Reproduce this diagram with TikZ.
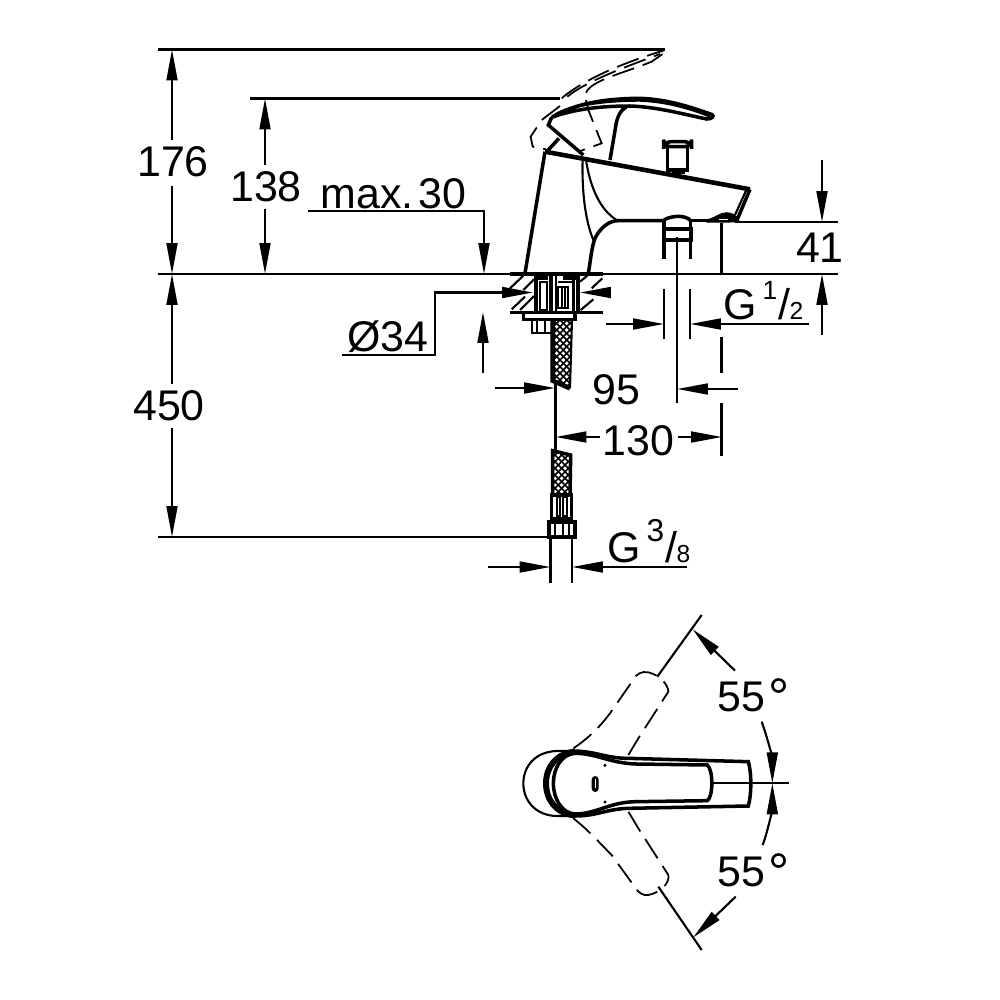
\documentclass[tikz,border=0pt]{standalone}
\usepackage{fontspec}
\setmainfont{Liberation Sans}
\usetikzlibrary{arrows.meta}
\newcommand{\dimfont}{\fontsize{12.2}{14}\selectfont}
\newcommand{\fracdim}[4]{G\kern1.6pt\raisebox{#4}{\fontsize{#3}{9}\selectfont #1}\kern0.3pt/\kern-0.2pt{\fontsize{7}{9}\selectfont #2}}
\newcommand{\degmark}{\kern1pt\raisebox{-1.2pt}{\fontsize{15}{15}\selectfont °}}
\tikzset{
  dimline/.style={line width=0.6pt,black},
  tip/.style={-{Triangle[length=8.8pt,width=3.1pt]}},
  part/.style={line width=0.6pt,black},
  heavy/.style={line width=1pt,black},
  phantomline/.style={line width=0.5pt,black,dash pattern=on 6.5pt off 2.6pt},
  hatch/.style={line width=0.45pt,black},
  dimtext/.style={font=\dimfont,inner sep=0pt,text=black},
  zoomA/.style={shift={(480,30)},scale=1/3},
  zoomB/.style={shift={(430,260)},scale=1/3},
  zoomC/.style={shift={(480,440)},scale=1/3},
  zoomD/.style={shift={(500,610)},scale=1/3}
}
\begin{document}
\begin{tikzpicture}[x=0.01cm,y=-0.01cm]
\useasboundingbox[fill=white] (0,0) rectangle (1000,1000);

% ---- extension lines
\draw[dimline] (158,49.5) -- (665,49.5);
\draw[dimline] (250,98.5) -- (560,98.5);
\draw[dimline] (158,274) -- (838,274);
\draw[dimline] (158,537) -- (550,537);
\draw[dimline] (735,222) -- (838,222);

% ---- 176 / 450 / 138
\draw[dimline,tip] (172,140) -- (172,49.5);
\draw[dimline,tip] (172,186) -- (172,274);
\draw[dimline,tip] (172,384) -- (172,274);
\draw[dimline,tip] (172,428) -- (172,537);
\draw[dimline,tip] (265,165) -- (265,98.5);
\draw[dimline,tip] (265,209) -- (265,274);
\node[dimtext] (t176) at (173,162) {176};
\node[dimtext] (t450) at (169,406) {450};
\node[dimtext] (t138) at (266,187) {138};

% ---- max. 30
\draw[dimline,tip] (308,211) -- (484,211) -- (484,274);
\node[dimtext] (tmax) at (393.5,194) {max.\kern1.5pt30};

% ---- dia 34
\draw[dimline,tip] (342,355) -- (435,355) -- (435,292.5) -- (533,292.5);
\draw[dimline,tip] (610,292.5) -- (580,292.5);
\node[dimtext] (t34) at (388,337) {Ø34};

% ---- deck thickness
\draw[dimline,tip] (483,373) -- (483,312);

% ---- 95
\draw[dimline,tip] (495,388) -- (555,388);
\draw[dimline] (555.5,380) -- (555.5,452);
\draw[dimline,tip] (738,389) -- (677,389);
\node[dimtext] (t95) at (616,390) {95};
\draw[dimline] (677,237) -- (677,403);

% ---- 130
\draw[dimline,tip] (600,437) -- (555.5,437);
\draw[dimline,tip] (678,437) -- (722,437);
\node[dimtext] (t130) at (638.5,441) {130};
\draw[dimline] (721.5,223) -- (721.5,274);
\draw[dimline] (721.5,337) -- (721.5,373);
\draw[dimline] (721.5,403) -- (721.5,456);

% ---- G 1/2
\draw[dimline] (664,289) -- (664,339);
\draw[dimline] (690,289) -- (690,339);
\draw[dimline,tip] (606,324) -- (664,324);
\draw[dimline,tip] (809,324) -- (690,324);
\node[dimtext,anchor=base west] (tg12) at (723,319) {\fracdim{1}{2}{7.5}{5.6pt}};

% ---- 41
\draw[dimline,tip] (822,160) -- (822,222);
\draw[dimline,tip] (822,335) -- (822,274);
\node[dimtext] (t41) at (819.5,248) {4\kern-0.3pt 1};

% ---- G 3/8
\draw[dimline] (550.5,537) -- (550.5,583);
\draw[dimline] (572,537) -- (572,583);
\draw[dimline,tip] (488,567) -- (550.5,567);
\draw[dimline,tip] (687,567) -- (572,567);
\node[dimtext,anchor=base west] (tg38) at (607,562) {\fracdim{3}{8}{9}{5.8pt}};

% ---- faucet side view
\begin{scope}[zoomA]
  % body
  \draw[heavy] (135,730) -- (195,365);
  \draw[line width=1.3pt] (195,365) -- (810,478);
  \draw[heavy] (810,478) -- (772,568);
  \draw[part] (798,482) -- (765,555);
  \draw[part] (308,385) .. controls (305,480) and (315,570) .. (340,630);
  \draw[part] (318,390) .. controls (330,470) and (360,540) .. (410,570);
  \draw[heavy] (325,730) .. controls (332,690) and (335,650) .. (345,625)
     .. controls (360,595) and (385,572) .. (415,572) -- (550,572);
  \draw[heavy] (632,572) -- (690,572);
  % aerator
  \draw[heavy,fill=black] (680,573) .. controls (705,570) and (720,552) .. (740,552)
     .. controls (755,552) and (770,562) .. (772,572) -- cycle;
  \draw[fill=white,draw=none] (716,566) rectangle (745,570);
  % button
  \draw[heavy,fill=white] (563,348) rectangle (622,420);
  \draw[heavy,fill=white,rounded corners=2pt] (551,335) rectangle (635,350);
  \draw[heavy,fill=white] (580,420) rectangle (610,428);
  % diverter
  \draw[heavy] (550,572) .. controls (565,558) and (615,552) .. (632,572);
  \draw[heavy] (552,572) -- (552,688);
  \draw[heavy] (632,572) -- (632,688);
  \draw[line width=1.1pt] (552,598) rectangle (632,630);
  % lever
  \draw[heavy] (215,262) .. controls (290,215) and (400,205) .. (480,205)
     .. controls (570,208) and (640,235) .. (695,253)
     .. controls (705,258) and (695,268) .. (680,267)
     .. controls (620,255) and (530,230) .. (450,228)
     .. controls (360,228) and (280,238) .. (215,262);
  \draw[part] (230,250) .. controls (300,220) and (400,212) .. (480,212)
     .. controls (570,216) and (640,240) .. (690,260);
  \draw[heavy] (440,230) .. controls (420,240) and (410,265) .. (407,290) -- (390,390);
  \draw[heavy] (215,262) -- (205,285) -- (310,375);
  \draw[heavy] (237,325) -- (200,365);
  % raised lever, dashed
  \draw[phantomline] (245,205) .. controls (290,165) and (390,110) .. (550,62);
  \draw[phantomline] (262,200) .. controls (310,160) and (410,120) .. (540,72);
  \draw[phantomline] (318,188) .. controls (335,150) and (430,130) .. (515,95) -- (558,65);
  \draw[phantomline] (240,228) -- (185,270) -- (152,320) -- (158,350) -- (198,358);
  \draw[phantomline] (318,210) -- (325,240) -- (365,340) -- (295,365);
\end{scope}

% ---- deck section and hose
\begin{scope}[zoomB]
  \draw[heavy] (240,42) -- (520,42);
  \draw[heavy] (240,157) -- (520,157);
  \foreach \a/\b/\c/\d in {240/85/280/47, 280/90/312/58, 245/148/285/110, 450/65/472/47, 452/150/490/118, 485/85/517/55, 270/150/312/108}
    \draw[part] (\a,\b) -- (\c,\d);
  \draw[line width=1.1pt] (318,42) -- (318,157);
  \draw[line width=1.1pt] (443,42) -- (443,157);
  \draw[part] (330,65) rectangle (352,150);
  \draw[heavy] (322,47) rectangle (348,55);
  \draw[heavy] (405,47) rectangle (435,55);
  \draw[part] (378,42) -- (378,157);
  \draw[line width=1.1pt] (362,42) -- (362,157);
  \draw[part] (385,80) rectangle (415,145);
  \draw[part] (395,85) -- (395,140);
  \draw[part] (405,85) -- (405,140);
  \draw[part] (385,65) -- (430,65);
  \draw[heavy] (430,55) -- (430,157);
  \draw[heavy,fill=white] (280,157) rectangle (435,178);
  \draw[part] (305,178) rectangle (370,220);
  \draw[part] (320,178) -- (320,220);
  \draw[part] (345,178) -- (345,220);
  \begin{scope}
    \clip (368,178) -- (426,178) -- (420,385) -- (368,362) -- cycle;
    \foreach \k in {0,20,...,360} {
      \draw[hatch] (340,{170+\k}) -- (440,{70+\k});
      \draw[hatch] (340,{70+\k}) -- (440,{170+\k});
    }
  \end{scope}
  \draw[line width=1.3pt] (368,178) -- (368,362) -- (420,385);
  \draw[part] (420,385) -- (426,178);
\end{scope}

\begin{scope}[zoomC]
  \begin{scope}
    \clip (218,32) -- (272,45) -- (270,165) -- (218,165) -- cycle;
    \foreach \k in {0,20,...,240} {
      \draw[hatch] (200,{50+\k}) -- (290,{-40+\k});
      \draw[hatch] (200,{-40+\k}) -- (290,{50+\k});
    }
  \end{scope}
  \draw[heavy] (218,165) -- (218,32) -- (272,45) -- (270,165);
  \draw[heavy] (214,165) rectangle (274,235);
  \draw[part] (230,172) rectangle (240,228);
  \draw[part] (250,172) rectangle (262,228);
  \draw[line width=1.1pt] (208,245) rectangle (285,290);
  \draw[part] (225,245) -- (225,290);
  \draw[part] (248,245) -- (248,290);
  \draw[part] (268,245) -- (268,290);
\end{scope}

% ---- top view
\begin{scope}[zoomD]
  % base
  \draw[part] (225,423) -- (170,423) .. controls (105,425) and (70,470) .. (70,520)
     .. controls (70,575) and (110,617) .. (170,618) -- (225,618);
  % lever outer
  \draw[heavy] (225,423) .. controls (290,425) and (320,445) .. (385,445)
     -- (745,455) .. controls (755,490) and (755,550) .. (745,588)
     -- (385,595) .. controls (320,597) and (290,618) .. (225,618);
  \draw[line width=1.7pt] (225,425) .. controls (170,430) and (138,470) .. (138,520)
     .. controls (138,570) and (170,612) .. (225,616);
  % lever inner
  \draw[heavy] (225,430) .. controls (185,432) and (160,475) .. (160,520)
     .. controls (160,565) and (185,610) .. (225,612)
     .. controls (290,612) and (330,575) .. (410,575) -- (622,572)
     .. controls (640,560) and (640,480) .. (622,465) -- (410,462)
     .. controls (330,460) and (290,430) .. (225,430);
  \fill[rounded corners=1pt] (275,498) rectangle (296,546);
  \fill[white] (285,508) rectangle (288,534);
  \fill (315,466) circle[radius=5];
  \fill (315,576) circle[radius=5];
  % dashed positions
  \draw[phantomline] (220,415) .. controls (265,385) and (300,350) .. (330,310)
     -- (398,212) .. controls (410,190) and (425,183) .. (445,187)
     .. controls (480,195) and (505,225) .. (505,245) -- (415,385) -- (385,435);
  \draw[phantomline] (220,625) .. controls (265,660) and (300,700) .. (335,735)
     -- (398,822) .. controls (415,850) and (430,858) .. (445,855)
     .. controls (480,848) and (510,820) .. (505,795) -- (415,655) -- (385,605);
  % dimensions
  \draw[dimline] (640,520) -- (868,520);
  \draw[dimline] (472,200) -- (605,15);
  \draw[dimline] (475,830) -- (605,1020);
  \draw[dimline,tip] (705,182) -- (578,58);
  \draw[dimline,tip] (707,860) -- (580,982);
  \draw[dimline,tip] (785,335) .. controls (805,390) and (817,450) .. (817,520);
  \draw[dimline,tip] (788,705) .. controls (805,660) and (817,590) .. (817,520);
\end{scope}
\node[dimtext] (t55a) at (753.5,697) {55\degmark};
\node[dimtext] (t55b) at (753.5,872) {55\degmark};
\end{tikzpicture}
\end{document}
